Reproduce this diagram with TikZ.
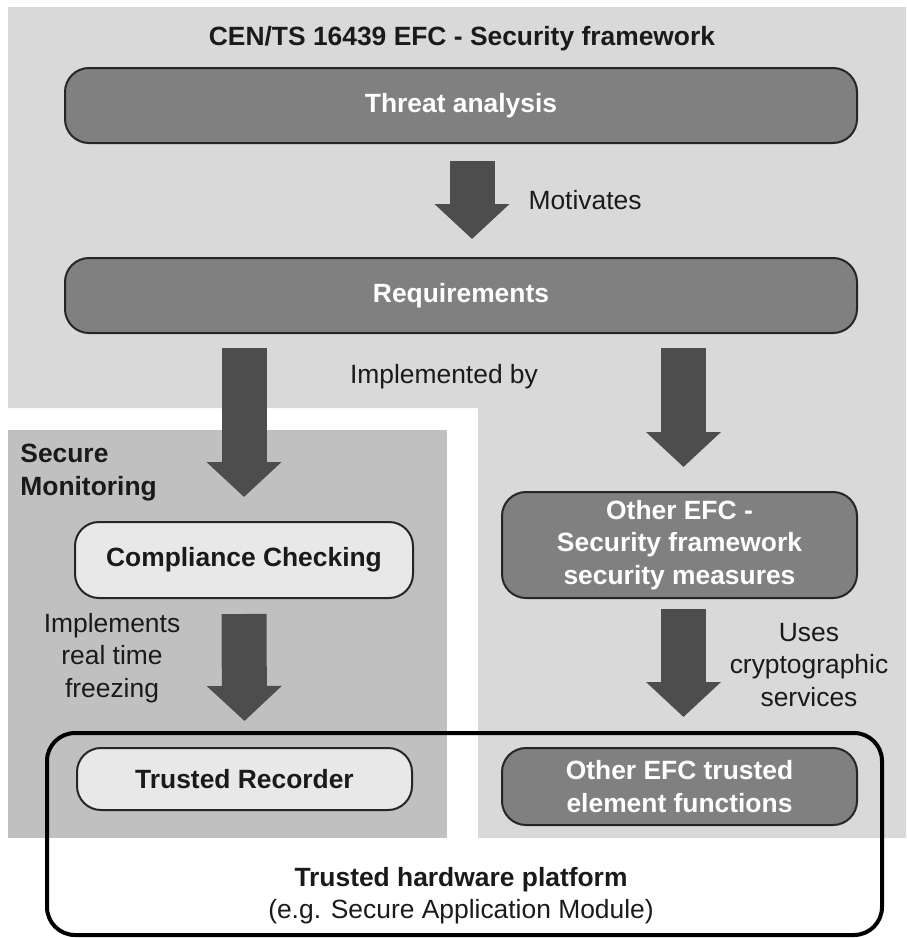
\documentclass[tikz,border=0pt]{standalone}
\usepackage{fontspec}
\setmainfont{Liberation Sans}
\usetikzlibrary{arrows.meta, calc}

\definecolor{panelgray}{HTML}{D9D9D9}
\definecolor{monitorgray}{HTML}{C0C0C0}
\definecolor{boxgray}{HTML}{808080}
\definecolor{boxlight}{HTML}{E8E8E8}
\definecolor{arrowgray}{HTML}{4D4D4D}
\definecolor{textgray}{HTML}{1A1A1A}

\newcommand{\diagfont}{\fontsize{13.2}{16.3}\selectfont}

\tikzset{
    darkbox/.style = {draw = black!85, line width = 1pt, fill = boxgray, rounded corners = 12pt,
        text = white, font = \diagfont\bfseries, align = center, inner sep = 0pt},
    lightbox/.style = {draw = black!85, line width = 1pt, fill = boxlight, rounded corners = 12pt,
        text = textgray, font = \diagfont\bfseries, inner sep = 0pt},
    bigarrow/.style = {draw = arrowgray, line width = 22.5pt,
        -{Triangle[length = 17.5pt, width = 36.5pt]}},
}

\begin{document}
\begin{tikzpicture}[x = 0.5pt, y = -0.5pt, font = \diagfont, text = textgray]
        \useasboundingbox (0, 0) rectangle (906, 938);

        % background panels
        \fill[panelgray] (8, 7) -- (906, 7) -- (906, 838) -- (478, 838) -- (478, 408) -- (8, 408) -- cycle;
        \fill[monitorgray] (8, 430) rectangle (447, 838);

        \node[font = \diagfont\bfseries] (title) at (462, 39) {CEN/TS 16439 EFC - Security framework};
        \node[font = \diagfont\bfseries, align = left, anchor = north west, inner sep = 0pt] (monitor) at (20, 444)
            {Secure\\Monitoring};

        % boxes
        \node[darkbox, minimum width = 396pt, minimum height = 37.5pt] (threat) at (461, 105.5) {Threat analysis};
        \node[darkbox, minimum width = 396pt, minimum height = 37.5pt] (req) at (461, 295.5) {Requirements};
        \node[lightbox, minimum width = 169pt, minimum height = 38pt] (comp) at (244, 560) {Compliance Checking};
        \node[lightbox, minimum width = 167.5pt, minimum height = 31pt] (rec) at (244.5, 779) {Trusted Recorder};
        \node[darkbox, minimum width = 177.5pt, minimum height = 53pt] (measures) at (679.5, 545)
            {Other EFC -\\Security framework\\security measures};
        \node[darkbox, minimum width = 177.5pt, minimum height = 38.5pt] (element) at (679.5, 786.5)
            {Other EFC trusted\\element functions};
        \node[draw = black, line width = 2pt, rounded corners = 14pt, minimum width = 417.5pt,
            minimum height = 101pt, inner sep = 0pt] (platform) at (464.5, 834) {};

        \node[font = \diagfont\bfseries] (hw) at (461, 880) {Trusted hardware platform};
        \node (sam) at (461, 912) {(e.g. Secure Application Module)};

        % arrows
        \draw[bigarrow] ($(threat.south) + (11, 17)$) -- ($(req.north) + (11, -18)$);
        \draw[bigarrow] ($(comp.north |- req.south) + (0, 14)$) -- ($(comp.north) + (0, -24)$);
        \draw[bigarrow] ($(measures.north |- req.south) + (4, 14)$) -- ($(measures.north) + (4, -24)$);
        \draw[bigarrow] ($(comp.south) + (0, 15)$) -- ($(rec.north) + (0, -26)$);
        \draw[bigarrow] ($(measures.south) + (4, 10)$) -- ($(element.north) + (4, -30)$);

        % labels
        \node (motivates) at (585, 200) {Motivates};
        \node (implby) at (444, 377) {Implemented by};
        \node[align = center] (freeze) at (112, 658) {Implements\\real time\\freezing};
        \node[align = center] (crypto) at (809, 665) {Uses\\cryptographic\\services};
    \end{tikzpicture}
\end{document}
